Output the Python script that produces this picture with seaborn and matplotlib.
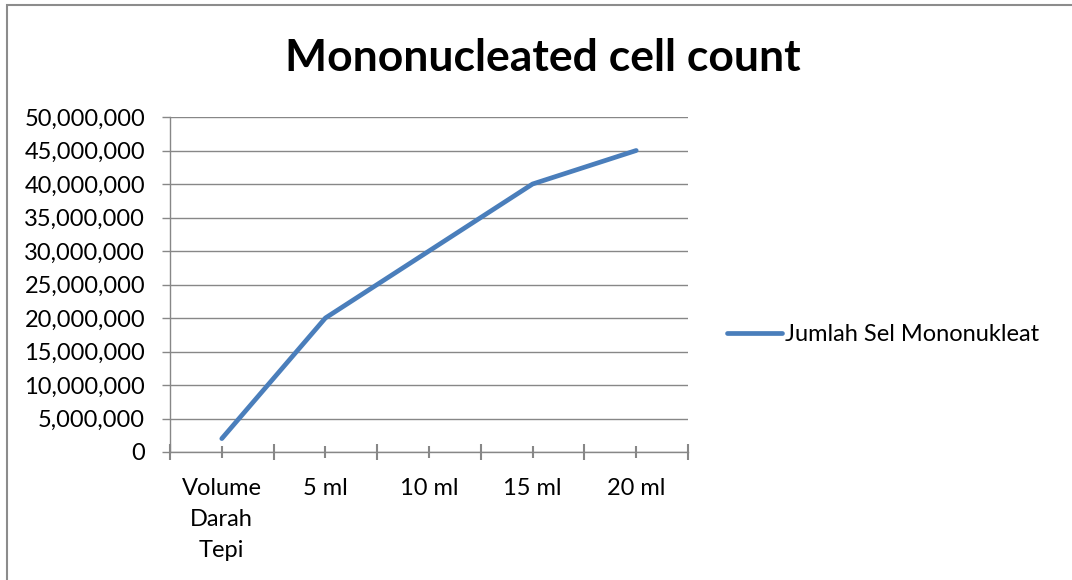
import matplotlib
matplotlib.use("Agg")
import matplotlib.pyplot as plt
import seaborn as sns
import pandas as pd
import numpy as np
from matplotlib.ticker import FuncFormatter, FixedLocator
from matplotlib.patches import Rectangle

categories = ["Volume\nDarah\nTepi", "5 ml", "10 ml", "15 ml", "20 ml"]
values = [2000000, 20000000, 30000000, 40000000, 45000000]
series_name = "Jumlah Sel Mononukleat"

sns.set_theme(style="white")
plt.rcParams['font.family'] = ['Lato', 'DejaVu Sans']
plt.rcParams['text.color'] = 'black'

df = pd.DataFrame({"x": np.arange(len(categories)), "y": values, "s": series_name})

fig = plt.figure(figsize=(10.72, 5.8), dpi=100)
ax = fig.add_axes([170/1072, 1-452/580, 518/1072, 335/580])

grid_c = "#878787"
sns.lineplot(data=df, x="x", y="y", hue="s", palette=["#4A7EBB"], linewidth=3.4,
             ax=ax, legend=True, solid_capstyle="round")

ax.set_xlim(-0.5, len(categories) - 0.5)
ax.set_ylim(0, 50000000)
ax.yaxis.set_major_locator(FixedLocator(np.arange(0, 50000001, 5000000)))
ax.yaxis.set_major_formatter(FuncFormatter(lambda v, p: f"{int(v):,}"))
ax.set_xticks(np.arange(len(categories)))
ax.set_xticklabels(categories, linespacing=1.6)
ax.set_xticks(np.arange(-0.5, len(categories)), minor=True)
ax.tick_params(bottom=True, left=True, which="both")
ax.tick_params(axis="x", which="major", length=9, width=1.5, color=grid_c, direction="inout",
               pad=14, labelsize=17, labelcolor="black")
ax.tick_params(axis="x", which="minor", length=12, width=1.5, color=grid_c, direction="inout")
ax.tick_params(axis="y", which="major", length=6, width=1, color=grid_c, direction="out",
               labelsize=17, labelcolor="black", pad=12)
ax.grid(axis="y", color=grid_c, linewidth=1)
ax.set_axisbelow(True)
ax.set_xlabel("")
ax.set_ylabel("")
for s in ["top", "right"]:
    ax.spines[s].set_visible(False)
for s in ["left", "bottom"]:
    ax.spines[s].set_color(grid_c)
    ax.spines[s].set_linewidth(1)

leg = ax.legend(loc="center left", bbox_to_anchor=(1.035, 0.35), frameon=False,
                fontsize=17, handlelength=2.33, handletextpad=0.13, title=None)
for t in leg.get_texts():
    t.set_color("black")

fig.text(0.5065, 1-58/580, "Mononucleated cell count", ha="center", va="center",
         fontsize=32, fontweight="bold", color="black")

fig.patches.append(Rectangle((7/1072, -0.1), 1.2, 1.1 - 5/580, transform=fig.transFigure,
                             fill=False, edgecolor="#8c8c8c", linewidth=1.5))

fig.savefig("out.png", dpi=100)
